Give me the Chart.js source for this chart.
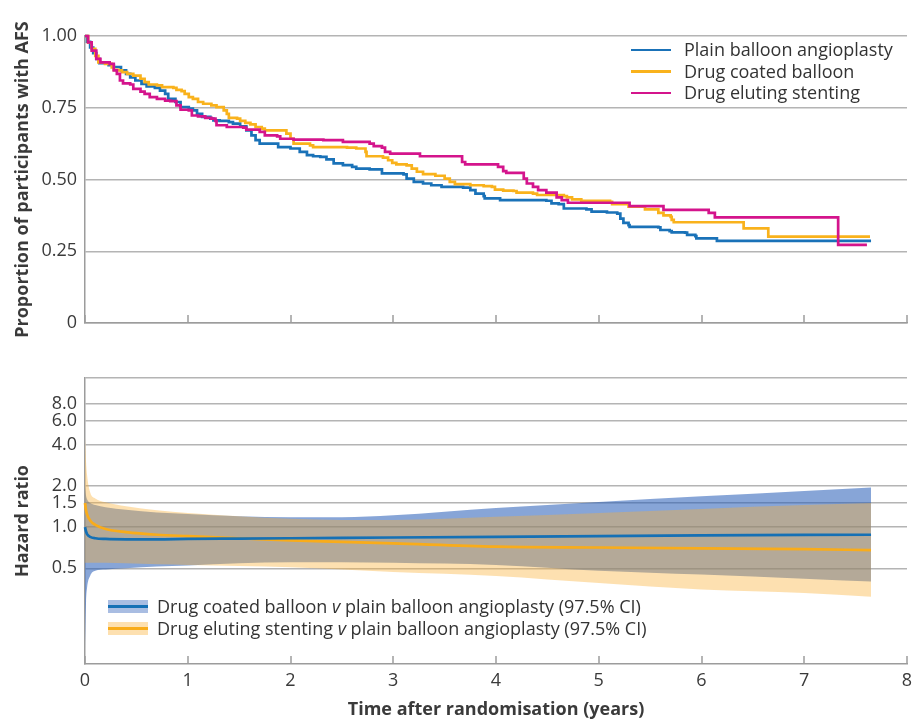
<!DOCTYPE html>
<html>
<head>
<meta charset="utf-8">
<script src="https://cdn.jsdelivr.net/npm/chart.js@4.4.1/dist/chart.umd.min.js"></script>
<style>
  html, body { margin: 0; padding: 0; background: #fff; }
  #wrap { position: relative; width: 913px; height: 721px; font-family: "Open Sans", sans-serif; color: #333; }
  #kmBox { position: absolute; left: 0; top: 0; width: 913px; height: 345px; }
  #hrBox { position: absolute; left: 0; top: 345px; width: 913px; height: 376px; }
  .legend { position: absolute; font-size: 18px; line-height: 21.5px; white-space: nowrap; }
  .legend .row { display: flex; align-items: center; }
  .legend .line { display: inline-block; width: 40px; height: 2.5px; margin-right: 13px; }
  .legend .band { position: relative; display: inline-block; width: 40px; height: 13px; margin-right: 9px; }
  .legend .band i { position: absolute; left: 0; right: 0; top: 5px; height: 3px; }
</style>
</head>
<body>
<div id="wrap">
  <div id="kmBox"><canvas id="km"></canvas></div>
  <div id="hrBox"><canvas id="hr"></canvas></div>

  <div class="legend" style="left:631px; top:39px;">
    <div class="row"><span class="line" style="background:#1a72b8"></span><span>Plain balloon angioplasty</span></div>
    <div class="row"><span class="line" style="background:#f9b21c"></span><span>Drug coated balloon</span></div>
    <div class="row"><span class="line" style="background:#d4148c"></span><span>Drug eluting stenting</span></div>
  </div>

  <div class="legend" style="left:108px; top:596px;">
    <div class="row"><span class="band" style="background:#a9bde2"><i style="background:#1570b5"></i></span><span>Drug coated balloon <em>v</em>&nbsp;plain balloon angioplasty (97.5% CI)</span></div>
    <div class="row"><span class="band" style="background:#fde0b0"><i style="background:#f9ac1a"></i></span><span>Drug eluting stenting <em>v</em>&nbsp;plain balloon angioplasty (97.5% CI)</span></div>
  </div>
</div>

<script>
// Kaplan-Meier steps: time (years) of each drop, proportion after the drop
const pbaTimes = [0, 0.02, 0.05, 0.08, 0.11, 0.14, 0.23, 0.28, 0.35, 0.40, 0.44, 0.49, 0.55, 0.60, 0.68, 0.73, 0.78, 0.81, 0.88, 0.93,
  1.01, 1.05, 1.09, 1.14, 1.22, 1.25, 1.31, 1.40, 1.44, 1.51, 1.57, 1.62, 1.66, 1.70, 1.88, 2.00, 2.09, 2.16, 2.22, 2.29,
  2.35, 2.42, 2.51, 2.60, 2.64, 2.77, 2.89, 3.10, 3.13, 3.20, 3.29, 3.37, 3.47, 3.68, 3.75, 3.80, 3.88, 3.89, 4.04, 4.49,
  4.54, 4.61, 4.66, 4.88, 4.93, 5.08, 5.18, 5.21, 5.24, 5.29, 5.30, 5.58, 5.60, 5.69, 5.71, 5.84, 5.86, 5.94, 5.95, 6.15, 7.65]
const pbaSurv = [1.0, 0.98, 0.96, 0.94, 0.92, 0.905, 0.898, 0.892, 0.88, 0.868, 0.856, 0.845, 0.833, 0.824, 0.819, 0.81, 0.798, 0.781, 0.77, 0.752,
  0.747, 0.741, 0.729, 0.718, 0.712, 0.706, 0.704, 0.700, 0.695, 0.685, 0.671, 0.654, 0.637, 0.625, 0.613, 0.608, 0.596, 0.585, 0.581, 0.579,
  0.570, 0.556, 0.550, 0.544, 0.538, 0.535, 0.521, 0.518, 0.503, 0.492, 0.486, 0.480, 0.474, 0.472, 0.463, 0.451, 0.442, 0.434, 0.428, 0.426,
  0.417, 0.414, 0.399, 0.396, 0.388, 0.385, 0.381, 0.364, 0.349, 0.341, 0.335, 0.333, 0.324, 0.320, 0.316, 0.315, 0.307, 0.303, 0.295, 0.286, 0.286]

const dcbTimes = [0, 0.03, 0.065, 0.10, 0.13, 0.195, 0.26, 0.28, 0.32, 0.36, 0.41, 0.47, 0.54, 0.58, 0.62, 0.70, 0.75, 0.86, 0.89, 0.94,
  0.97, 1.01, 1.05, 1.10, 1.15, 1.23, 1.28, 1.35, 1.38, 1.40, 1.48, 1.51, 1.56, 1.61, 1.66, 1.72, 1.75, 1.96, 2.00, 2.03,
  2.19, 2.22, 2.55, 2.64, 2.73, 2.74, 2.90, 2.95, 2.99, 3.03, 3.13, 3.18, 3.23, 3.29, 3.41, 3.50, 3.55, 3.60, 3.75, 3.88,
  3.96, 3.99, 4.07, 4.17, 4.20, 4.36, 4.40, 4.66, 4.69, 4.74, 4.83, 5.11, 5.13, 5.29, 5.45, 5.58, 5.63, 5.70, 5.71, 5.73,
  6.41, 6.65, 7.64]
const dcbSurv = [1.0, 0.978, 0.955, 0.931, 0.908, 0.903, 0.891, 0.882, 0.880, 0.874, 0.868, 0.862, 0.851, 0.839, 0.831, 0.828, 0.822, 0.819, 0.812, 0.808,
  0.798, 0.787, 0.781, 0.770, 0.764, 0.758, 0.752, 0.741, 0.729, 0.715, 0.712, 0.704, 0.697, 0.692, 0.683, 0.677, 0.671, 0.660, 0.642, 0.625,
  0.619, 0.613, 0.611, 0.608, 0.596, 0.581, 0.576, 0.567, 0.558, 0.553, 0.549, 0.538, 0.527, 0.519, 0.513, 0.503, 0.492, 0.484, 0.480, 0.477,
  0.474, 0.465, 0.461, 0.460, 0.454, 0.451, 0.446, 0.442, 0.438, 0.431, 0.426, 0.422, 0.414, 0.405, 0.396, 0.384, 0.375, 0.370, 0.359, 0.351,
  0.330, 0.301, 0.301]

const desTimes = [0, 0.03, 0.065, 0.11, 0.15, 0.24, 0.28, 0.31, 0.34, 0.37, 0.44, 0.47, 0.54, 0.58, 0.63, 0.70, 0.78, 0.83, 0.89, 0.93,
  1.01, 1.04, 1.10, 1.17, 1.23, 1.27, 1.28, 1.38, 1.54, 1.57, 1.70, 1.75, 1.87, 1.90, 2.03, 2.32, 2.51, 2.77, 2.81, 2.89,
  2.92, 2.97, 3.26, 3.67, 3.70, 4.02, 4.07, 4.10, 4.27, 4.30, 4.36, 4.41, 4.49, 4.59, 4.64, 4.70, 5.30, 5.63, 6.07, 6.13,
  7.33, 7.61]
const desSurv = [1.0, 0.978, 0.949, 0.920, 0.908, 0.903, 0.880, 0.868, 0.845, 0.835, 0.831, 0.816, 0.806, 0.798, 0.787, 0.781, 0.775, 0.773, 0.758, 0.743,
  0.741, 0.723, 0.720, 0.715, 0.712, 0.704, 0.689, 0.683, 0.681, 0.674, 0.666, 0.654, 0.650, 0.642, 0.639, 0.637, 0.631, 0.625, 0.616, 0.611,
  0.596, 0.590, 0.581, 0.561, 0.553, 0.544, 0.529, 0.523, 0.503, 0.486, 0.474, 0.463, 0.454, 0.438, 0.428, 0.419, 0.407, 0.394, 0.384, 0.368,
  0.272, 0.272]

// Hazard ratios over time (log scale), with 97.5% CI
const hrTimes = [0, 0.01, 0.02, 0.05, 0.1, 0.2, 0.4, 0.7, 1, 1.5, 2, 2.5, 3, 4, 5, 6, 7, 7.65]
const dcbHr = [1.0, 0.93, 0.89, 0.85, 0.83, 0.82, 0.815, 0.815, 0.82, 0.825, 0.83, 0.835, 0.84, 0.85, 0.86, 0.87, 0.877, 0.88]
const dcbLower = [0.13, 0.28, 0.36, 0.44, 0.48, 0.49, 0.5, 0.515, 0.525, 0.545, 0.555, 0.555, 0.55, 0.53, 0.48, 0.45, 0.42, 0.40]
const dcbUpper = [2.0, 1.7, 1.6, 1.5, 1.45, 1.4, 1.34, 1.28, 1.25, 1.2, 1.18, 1.18, 1.22, 1.38, 1.53, 1.68, 1.84, 1.95]
const desHr = [1.5, 1.33, 1.24, 1.12, 1.04, 0.97, 0.92, 0.88, 0.86, 0.83, 0.80, 0.78, 0.76, 0.72, 0.71, 0.70, 0.69, 0.68]
const desLower = [0.55, 0.55, 0.55, 0.55, 0.55, 0.55, 0.545, 0.535, 0.53, 0.52, 0.51, 0.49, 0.47, 0.44, 0.39, 0.35, 0.33, 0.31]
const desUpper = [4.5, 3.0, 2.4, 1.8, 1.62, 1.52, 1.42, 1.33, 1.27, 1.2, 1.15, 1.13, 1.13, 1.19, 1.27, 1.36, 1.45, 1.5]

const kmTicks = [0, 0.25, 0.5, 0.75, 1]
const hrTicks = [0.5, 1, 1.5, 2, 4, 6, 8]
const HR_MIN = 0.1
const HR_MAX = 12.3

const GRID = '#b4b4b4'
const AXIS = '#9c9c9c'
const TEXT = '#3a3a3a'

Chart.defaults.font.family = '"Open Sans", sans-serif'
Chart.defaults.color = TEXT
Chart.defaults.animation = false

const pts = (xs, ys) => xs.map((x, i) => ({ x, y: ys[i] }))

// tick marks on the x axis point up into the plot
const innerTicks = {
  id: 'innerTicks',
  afterDraw(chart) {
    const scale = chart.scales.x
    const ctx = chart.ctx
    const y0 = chart.chartArea.bottom
    ctx.save()
    ctx.strokeStyle = AXIS
    ctx.lineWidth = 1.5
    scale.ticks.forEach((t) => {
      const px = Math.round(scale.getPixelForValue(t.value))
      ctx.beginPath()
      ctx.moveTo(px, y0)
      ctx.lineTo(px, y0 - 8)
      ctx.stroke()
    })
    ctx.restore()
  },
}

const xAxis = (showLabels) => ({
  type: 'linear',
  min: 0,
  max: 8,
  grid: { display: false, drawTicks: false },
  border: { display: true, color: AXIS, width: 1.5 },
  ticks: {
    display: showLabels,
    stepSize: 1,
    padding: 6,
    font: { size: 18 },
    color: TEXT,
  },
  title: {
    display: showLabels,
    text: 'Time after randomisation (years)',
    font: { size: 18, weight: 'bold' },
    color: TEXT,
    padding: { top: 4, bottom: 0 },
  },
  afterFit(scale) {
    scale.height = showLabels ? 57 : 22
    scale.paddingLeft = 0
    scale.paddingRight = 6
  },
})

const yAxisSize = (scale) => {
  scale.width = 73
}

const kmLine = (label, xs, ys, color) => ({
  label,
  data: pts(xs, ys),
  borderColor: color,
  backgroundColor: color,
  borderWidth: 2.7,
  pointRadius: 0,
  stepped: true,
  fill: false,
  clip: 4,
})

new Chart(document.getElementById('km'), {
  type: 'line',
  data: {
    datasets: [
      kmLine('Drug eluting stenting', desTimes, desSurv, '#d4148c'),
      kmLine('Drug coated balloon', dcbTimes, dcbSurv, '#f9b21c'),
      kmLine('Plain balloon angioplasty', pbaTimes, pbaSurv, '#1a72b8'),
    ],
  },
  options: {
    responsive: true,
    maintainAspectRatio: false,
    layout: { padding: { top: 36, right: 0, left: 12, bottom: 0 } },
    plugins: { legend: { display: false }, tooltip: { enabled: false } },
    scales: {
      x: xAxis(false),
      y: {
        min: 0,
        max: 1,
        afterBuildTicks(scale) {
          scale.ticks = kmTicks.map((v) => ({ value: v }))
        },
        grid: { color: GRID, lineWidth: 1.5, drawTicks: false },
        border: { display: true, color: AXIS, width: 1.5 },
        ticks: {
          padding: 8,
          font: { size: 18 },
          color: TEXT,
          callback: (v) => (v === 0 ? '0' : Number(v).toFixed(2)),
        },
        title: {
          display: true,
          text: 'Proportion of participants with AFS',
          font: { size: 18, weight: 'bold' },
          color: TEXT,
          padding: { top: 0, bottom: 0 },
        },
        afterFit: yAxisSize,
      },
    },
  },
  plugins: [innerTicks],
})

const band = (upper, lower, color, order) => [
  {
    label: 'upper',
    data: pts(hrTimes, upper),
    borderWidth: 0,
    pointRadius: 0,
    backgroundColor: color,
    fill: '+1',
    cubicInterpolationMode: 'monotone',
    order,
  },
  {
    label: 'lower',
    data: pts(hrTimes, lower),
    borderWidth: 0,
    pointRadius: 0,
    fill: false,
    cubicInterpolationMode: 'monotone',
    order,
  },
]

const hrLine = (label, ys, color, order) => ({
  label,
  data: pts(hrTimes, ys),
  borderColor: color,
  borderWidth: 2.7,
  pointRadius: 0,
  fill: false,
  cubicInterpolationMode: 'monotone',
  order,
  clip: 4,
})

new Chart(document.getElementById('hr'), {
  type: 'line',
  data: {
    datasets: [
      ...band(dcbUpper, dcbLower, 'rgba(37, 91, 182, 0.55)', 4),
      ...band(desUpper, desLower, 'rgba(250, 175, 52, 0.39)', 3),
      hrLine('Drug eluting stenting v plain balloon angioplasty', desHr, '#f9ac1a', 1),
      hrLine('Drug coated balloon v plain balloon angioplasty', dcbHr, '#1570b5', 0),
    ],
  },
  options: {
    responsive: true,
    maintainAspectRatio: false,
    layout: { padding: { top: 33, right: 0, left: 12, bottom: 0 } },
    plugins: { legend: { display: false }, tooltip: { enabled: false } },
    scales: {
      x: xAxis(true),
      y: {
        type: 'logarithmic',
        min: HR_MIN,
        max: HR_MAX,
        afterBuildTicks(scale) {
          scale.ticks = [...hrTicks, HR_MAX].map((v) => ({ value: v }))
        },
        grid: { color: GRID, lineWidth: 1.5, drawTicks: false },
        border: { display: true, color: AXIS, width: 1.5 },
        ticks: {
          padding: 8,
          font: { size: 18 },
          color: TEXT,
          callback: (v) => (hrTicks.includes(v) ? Number(v).toFixed(1) : ''),
        },
        title: {
          display: true,
          text: 'Hazard ratio',
          font: { size: 18, weight: 'bold' },
          color: TEXT,
          padding: { top: 0, bottom: 0 },
        },
        afterFit: yAxisSize,
      },
    },
  },
  plugins: [innerTicks],
})
</script>
</body>
</html>
